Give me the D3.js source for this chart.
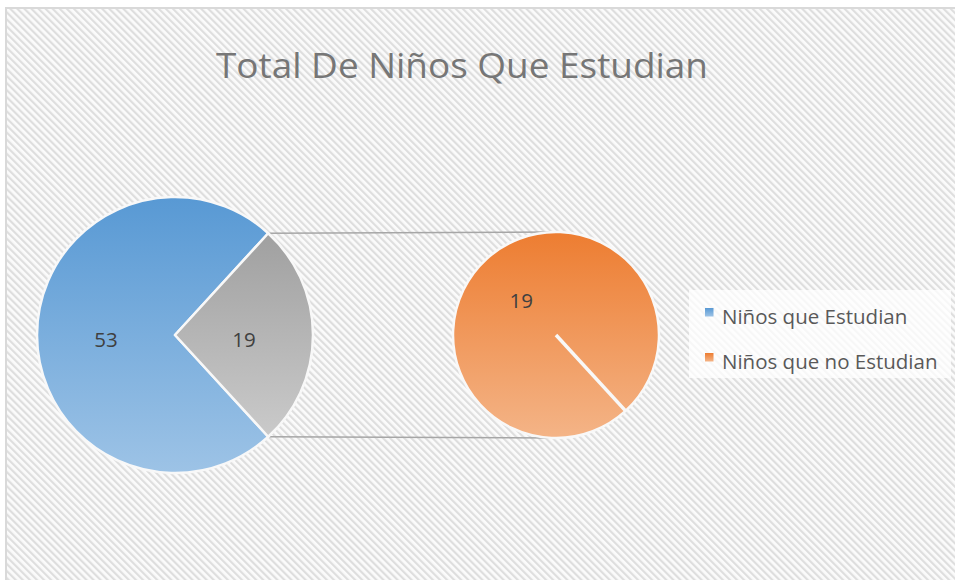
<!DOCTYPE html>
<html>
<head>
<meta charset="utf-8">
<script src="https://d3js.org/d3.v7.min.js"></script>
<style>
  body { margin: 0; background: #fff; }
  text { font-family: "Open Sans", "Noto Sans", sans-serif; }
</style>
</head>
<body>
<script>
// main pie: the two groups, the small one is split out into the second pie
var categories = ["Niños que Estudian", "Niños que no Estudian"];
var values = [53, 19];
var mainLabels = ["53", "19"];
var subValues = [19];

var width = 955, height = 580;

var svg = d3.select("body").append("svg")
  .attr("width", width)
  .attr("height", height);

var defs = svg.append("defs");

// diagonal hatch background
var pat = defs.append("pattern")
  .attr("id", "hatch")
  .attr("width", 5).attr("height", 5)
  .attr("patternUnits", "userSpaceOnUse")
  .attr("patternTransform", "rotate(-45)");
pat.append("rect").attr("width", 5).attr("height", 5).attr("fill", "#fbfbfb");
pat.append("rect").attr("width", 2.2).attr("height", 5).attr("fill", "#dedede");

function grad(id, c1, c2) {
  var g = defs.append("linearGradient").attr("id", id)
    .attr("x1", 0).attr("y1", 0).attr("x2", 0).attr("y2", 1);
  g.append("stop").attr("offset", "0%").attr("stop-color", c1);
  g.append("stop").attr("offset", "100%").attr("stop-color", c2);
}
grad("gBlue", "#5899d4", "#9dc3e6");
grad("gGray", "#a0a0a0", "#cacaca");
grad("gOrange", "#ed7d31", "#f4b487");

svg.append("rect")
  .attr("x", 6).attr("y", 8)
  .attr("width", width).attr("height", height)
  .attr("fill", "url(#hatch)")
  .attr("stroke", "#d9d9d9").attr("stroke-width", 2);

// title
svg.append("text")
  .attr("x", 462).attr("y", 78)
  .attr("text-anchor", "middle")
  .attr("font-size", 35)
  .attr("fill", "#767676")
  .attr("textLength", 492)
  .attr("lengthAdjust", "spacingAndGlyphs")
  .text("Total De Niños Que Estudian");

var cx1 = 175, cy1 = 335, r1 = 138;
var cx2 = 556, cy2 = 335, r2 = 103;

// gray slice centred on the right-hand side
var otherAngle = values[1] / d3.sum(values) * 2 * Math.PI;
var pie = d3.pie().sort(null)
  .startAngle(Math.PI / 2 + otherAngle / 2)
  .endAngle(Math.PI / 2 + otherAngle / 2 + 2 * Math.PI);

var arc1 = d3.arc().innerRadius(0).outerRadius(r1);
var fills1 = ["url(#gBlue)", "url(#gGray)"];

// connector lines from the gray slice to the second pie
var a0 = Math.PI / 2 - otherAngle / 2, a1 = Math.PI / 2 + otherAngle / 2;
var conn = [
  [[cx1 + r1 * Math.sin(a0), cy1 - r1 * Math.cos(a0)], [cx2, cy2 - r2]],
  [[cx1 + r1 * Math.sin(a1), cy1 - r1 * Math.cos(a1)], [cx2, cy2 + r2]]
];
svg.selectAll(".conn").data(conn).enter().append("line")
  .attr("x1", function(d) { return d[0][0]; })
  .attr("y1", function(d) { return d[0][1]; })
  .attr("x2", function(d) { return d[1][0]; })
  .attr("y2", function(d) { return d[1][1]; })
  .attr("stroke", "#a6a6a6").attr("stroke-width", 1.6);

var g1 = svg.append("g").attr("transform", "translate(" + cx1 + "," + cy1 + ")");
var arcs1 = pie(values);
g1.selectAll("path").data(arcs1).enter().append("path")
  .attr("d", arc1)
  .attr("fill", function(d, i) { return fills1[i]; })
  .attr("stroke", "#f8f8f8").attr("stroke-width", 2.5)
  .attr("stroke-linejoin", "round");

g1.selectAll("text").data(arcs1).enter().append("text")
  .attr("transform", function(d) { return "translate(" + arc1.centroid(d) + ")"; })
  .attr("dy", "0.6em")
  .attr("text-anchor", "middle")
  .attr("font-size", 20.5)
  .attr("fill", "#404040")
  .text(function(d, i) { return mainLabels[i]; });

// second pie (a single full slice)
var pie2 = d3.pie().sort(null)
  .startAngle(Math.PI / 2 + otherAngle / 2)
  .endAngle(Math.PI / 2 + otherAngle / 2 + 2 * Math.PI);
var arc2 = d3.arc().innerRadius(0).outerRadius(r2);
var g2 = svg.append("g").attr("transform", "translate(" + cx2 + "," + cy2 + ")");
var arcs2 = pie2(subValues);
g2.selectAll("path").data(arcs2).enter().append("path")
  .attr("d", arc2)
  .attr("fill", "url(#gOrange)")
  .attr("stroke", "#f8f8f8").attr("stroke-width", 2.5);
// white seam where the full slice starts and ends
g2.append("line")
  .attr("x1", 0).attr("y1", 0)
  .attr("x2", r2 * Math.sin(arcs2[0].startAngle))
  .attr("y2", -r2 * Math.cos(arcs2[0].startAngle))
  .attr("stroke", "#f8f8f8").attr("stroke-width", 3.5);
g2.selectAll("text").data(arcs2).enter().append("text")
  .attr("transform", function(d) { return "translate(" + arc2.centroid(d) + ")"; })
  .attr("dy", "0.55em")
  .attr("text-anchor", "middle")
  .attr("font-size", 20.5)
  .attr("fill", "#404040")
  .text(function(d) { return d.value; });

// legend
var legend = svg.append("g");
legend.append("rect")
  .attr("x", 689).attr("y", 290).attr("width", 262).attr("height", 88)
  .attr("fill", "#ffffff").attr("fill-opacity", 0.75);
var legendFills = ["url(#gBlue)", "url(#gOrange)"];
var items = legend.selectAll(".item").data(categories).enter().append("g")
  .attr("transform", function(d, i) { return "translate(705," + (308 + i * 45) + ")"; });
items.append("rect")
  .attr("width", 8.5).attr("height", 8.5)
  .attr("fill", function(d, i) { return legendFills[i]; });
items.append("text")
  .attr("x", 17).attr("y", 9)
  .attr("dy", "0.35em")
  .attr("font-size", 20.5)
  .attr("fill", "#595959")
  .text(function(d) { return d; });
</script>
</body>
</html>
